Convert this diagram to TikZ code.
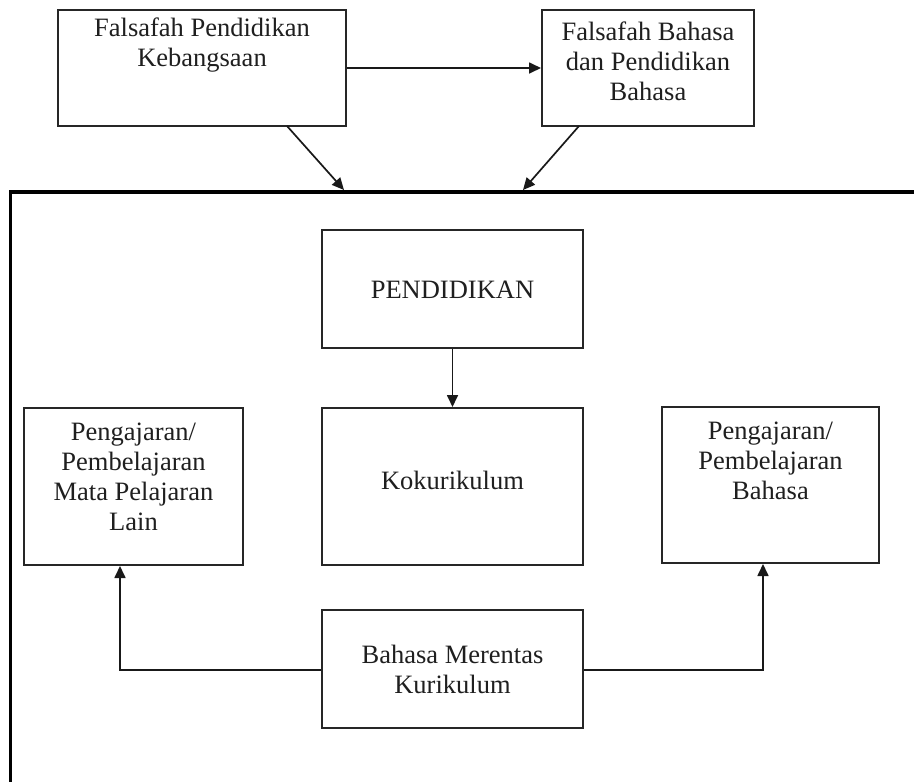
\documentclass[tikz,border=0pt]{standalone}
\usepackage{fontspec}
\setmainfont{Liberation Serif}
\usetikzlibrary{arrows.meta}
\begin{document}
\begin{tikzpicture}[x=1pt,y=-1pt,
  box/.style={draw=black!85, line width=2pt, inner sep=0pt, fill=white},
  txt/.style={inner sep=0pt, align=center, font=\fontsize{26.5}{30}\selectfont, text=black!88},
  arr/.style={line width=1.7pt, draw=black!90, -{Triangle[length=12pt,width=11pt]}},
  ln/.style={line width=1.7pt, draw=black!90}]
\useasboundingbox (0,0) rectangle (914,782);
\fill[white] (0,0) rectangle (914,782);
% frame
\coordinate (frtr) at (916,192);
\coordinate (frtl) at (10.5,192);
\coordinate (frbl) at (10.5,784);
\draw[line width=3.8pt, line join=miter] (frtr) -- (frtl) -- (frbl);
% top boxes
\node[box, minimum width=288pt, minimum height=116pt] (b1) at (202,68) {};
\node[txt, anchor=north] (t1) at ([yshift=-9pt]b1.north) {Falsafah Pendidikan\\Kebangsaan};
\node[box, minimum width=212pt, minimum height=116pt] (b2) at (648,68) {};
\node[txt, anchor=north] (t2) at ([yshift=-13pt]b2.north) {Falsafah Bahasa\\dan Pendidikan\\Bahasa};
\draw[arr] (b1.east |- 0,68) -- (b2.west |- 0,68);
\coordinate (f1) at (344,190);
\coordinate (f2) at (523,190);
\draw[arr] (287,126) -- (f1);
\draw[arr] (579,126) -- (f2);
% inner boxes
\node[box, minimum width=261pt, minimum height=118pt] (pend) at (452.5,289) {};
\node[txt] (tp) at (452.5,290) {PENDIDIKAN};
\node[box, minimum width=261pt, minimum height=157pt] (koku) at (452.5,486.5) {};
\node[txt] (tk) at (452.5,480) {Kokurikulum};
\draw[arr] (pend.south) -- (koku.north);
\node[box, minimum width=219pt, minimum height=157pt] (left) at (133.5,486.5) {};
\node[txt, anchor=north] (tl) at ([yshift=-16pt]left.north) {Pengajaran/\\Pembelajaran\\Mata Pelajaran\\Lain};
\node[box, minimum width=217pt, minimum height=156pt] (right) at (770.5,485) {};
\node[txt, anchor=north] (tr) at ([yshift=-16pt]right.north) {Pengajaran/\\Pembelajaran\\Bahasa};
\node[box, minimum width=261pt, minimum height=118pt] (bmk) at (452.5,669) {};
\node[txt] (tb) at (452.5,669) {Bahasa Merentas\\Kurikulum};
\draw[arr] (bmk.west |- 0,670) -| (left.south -| 120,0);
\draw[arr] (bmk.east |- 0,670) -| (right.south -| 763,0);
\end{tikzpicture}
\end{document}
